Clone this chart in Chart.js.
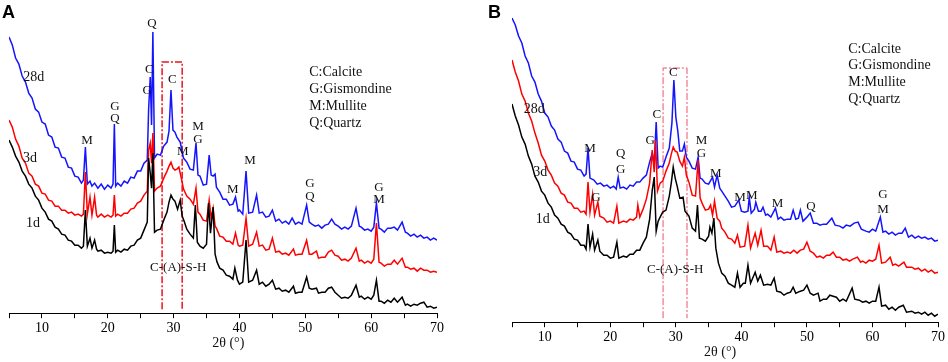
<!DOCTYPE html>
<html lang="en">
<head>
<meta charset="UTF-8" />
<title>XRD patterns</title>
<script src="https://cdn.jsdelivr.net/npm/chart.js@4.4.1/dist/chart.umd.min.js"></script>
<style>
  html, body { margin: 0; padding: 0; background: #fff; }
  body { width: 948px; height: 362px; position: relative; overflow: hidden; }
  #chartA { position: absolute; left: 0; top: 0; }
  #chartB { position: absolute; left: 470px; top: 0; }
</style>
</head>
<body>
<canvas id="chartA" width="470" height="362"></canvas>
<canvas id="chartB" width="478" height="362"></canvas>

<script>
// 2theta ticks (every 5, labelled every 10)
const thetaTicks = [5, 10, 15, 20, 25, 30, 35, 40, 45, 50, 55, 60, 65, 70];

// ---- panel A : [2theta, intensity] ----
const a28d = [[5,276],[5.5,268],[6,255],[6.5,249],[7,237],[7.5,231],[8,220],[8.5,215],[9,204],[9.5,201],[10,191],[10.5,189],[11,178],[11.5,176],[12,166],[12.5,165],[13,156],[13.5,155],[14,146],[14.5,145],[15,137],[15.5,136],[16,130],[16.3,133],[16.6,166],[16.9,129],[17.3,132],[17.6,127],[18,130],[18.5,125],[19,129],[19.5,124],[20,128],[20.5,125],[20.8,129],[21,189],[21.2,127],[21.5,130],[22,127],[22.5,132],[23,130],[23.5,136],[24,135],[24.5,142],[25,142],[25.5,150],[26,153],[26.2,203],[26.45,236],[26.65,188],[26.85,281],[27.1,155],[27.5,159],[28,158],[28.5,167],[29,171],[29.3,182],[29.6,223],[29.9,183],[30.2,181],[30.5,176],[31,171],[31.5,155],[32,151],[32.5,144],[33,143],[33.4,170],[33.7,138],[34,137],[34.5,128],[35,129],[35.4,158],[35.7,138],[36,137],[36.3,139],[36.5,126],[37,121],[37.5,114],[38,114],[38.5,108],[39,109],[39.4,116],[39.8,102],[40,103],[40.5,99],[41,142],[41.4,100],[42,101],[42.6,118],[43,100],[43.5,101],[44,96],[44.5,97],[45,103],[45.5,92],[46,94],[46.5,90],[47,92],[47.5,89],[48,95],[48.5,89],[49,91],[49.5,89],[50.2,108],[50.6,91],[51,89],[51.5,87],[52,88],[52.5,85],[53,88],[53.5,89],[54,94],[54.5,89],[55,87],[55.5,84],[56,86],[56.5,84],[57,87],[57.7,105],[58.2,87],[58.5,86],[59,83],[59.5,84],[60,82],[60.4,86],[60.8,110],[61.2,85],[61.5,84],[62,81],[62.5,85],[63,85],[63.5,86],[64,83],[64.7,91],[65.2,81],[65.5,80],[66,77],[66.5,79],[67,76],[67.5,78],[68,75],[68.5,76],[69,73],[69.5,75],[70,73]];
const a3d = [[5,193],[5.5,186],[6,174],[6.5,167],[7,155],[7.5,150],[8,140],[8.5,137],[9,129],[9.5,127],[10,120],[10.5,119],[11,113],[11.5,112],[12,107],[12.5,107],[13,103],[13.5,103],[14,100],[14.5,101],[15,98],[15.5,99],[16,97],[16.3,99],[16.6,141],[16.9,99],[17.3,116],[17.6,98],[18,116],[18.3,98],[18.5,96],[19,99],[19.5,96],[20,98],[20.5,96],[20.8,98],[21,118],[21.2,97],[21.5,99],[22,97],[22.5,100],[23,100],[23.5,104],[24,105],[24.5,110],[25,112],[25.5,118],[26,122],[26.2,163],[26.45,170],[26.65,150],[26.85,180],[27.1,122],[27.5,125],[28,127],[28.5,135],[29,142],[29.3,147],[29.6,151],[29.9,145],[30.2,143],[30.5,144],[30.8,146],[31.2,134],[31.5,124],[32,117],[32.5,114],[33,109],[33.4,125],[33.7,101],[34,99],[34.5,93],[35,92],[35.4,113],[35.7,95],[36,105],[36.3,87],[36.5,85],[37,77],[37.5,76],[38,72],[38.5,72],[39,69],[39.4,80],[39.8,68],[40,67],[40.5,68],[41,95],[41.4,67],[42,69],[42.6,81],[43,67],[43.5,68],[44,63],[44.5,64],[45,75],[45.5,61],[46,62],[46.5,59],[47,60],[47.5,58],[48.2,64],[48.5,58],[49,59],[49.5,59],[50.2,73],[50.6,59],[51,59],[51.7,62],[52,55],[52.5,56],[53,56],[53.5,61],[54,63],[54.5,58],[55,57],[55.5,53],[56,54],[56.5,52],[57,55],[57.7,65],[58.2,52],[58.5,53],[59,50],[59.5,52],[60,50],[60.4,54],[60.8,90],[61.2,51],[61.5,50],[62,47],[62.5,49],[63,49],[63.5,53],[64,49],[64.7,55],[65.2,46],[65.5,46],[66,44],[66.5,45],[67,42],[67.5,45],[68,43],[68.5,43],[69,41],[69.5,42],[70,41]];
const a1d = [[5,173],[5.5,166],[6,157],[6.5,151],[7,142],[7.5,137],[8,129],[8.5,125],[9,117],[9.5,113],[10,105],[10.5,101],[11,94],[11.5,92],[12,86],[12.5,84],[13,79],[13.5,78],[14,73],[14.5,72],[15,68],[15.5,68],[16,65],[16.3,67],[16.6,103],[16.9,67],[17.3,75],[17.6,65],[18,73],[18.3,64],[18.5,62],[19,63],[19.5,60],[20,61],[20.5,60],[20.8,62],[21,88],[21.2,61],[21.5,63],[22,61],[22.5,64],[23,63],[23.5,67],[24,68],[24.5,73],[25,75],[25.5,83],[26,91],[26.2,155],[26.45,140],[26.65,125],[26.85,160],[27.1,81],[27.5,83],[28,84],[28.5,93],[29,101],[29.3,111],[29.6,118],[29.9,114],[30.2,112],[30.6,104],[31,113],[31.3,97],[31.6,92],[32,84],[32.5,79],[33,75],[33.3,108],[33.6,71],[34,67],[34.5,65],[35,69],[35.3,110],[35.6,80],[36,106],[36.3,59],[36.6,51],[37,45],[37.5,43],[38,38],[38.5,37],[39,34],[39.3,45],[39.7,33],[40,29],[40.5,31],[41,73],[41.4,31],[42,33],[42.6,43],[43,29],[43.5,31],[44,27],[44.5,29],[45,33],[45.5,24],[46,25],[46.5,22],[47,23],[47.5,21],[48.2,27],[48.5,20],[49,21],[49.5,21],[50.2,36],[50.6,25],[51,24],[51.7,25],[52,20],[52.5,21],[53,21],[53.5,25],[54,26],[54.5,21],[55,18],[55.5,15],[56,16],[56.5,15],[57,18],[57.7,28],[58.2,16],[58.5,17],[59,14],[59.5,16],[60,14],[60.4,18],[60.8,33],[61.2,12],[61.5,12],[62,10],[62.5,13],[63,11],[63.5,15],[64,11],[64.7,16],[65.2,8],[65.5,9],[66,7],[66.5,9],[67,8],[67.5,10],[68,11],[68.5,6],[69,7],[69.5,5],[70,6]];

// ---- panel B ----
const b28d = [[5,304],[5.5,297],[6,286],[6.5,279],[7,266],[7.5,259],[8,246],[8.5,240],[9,228],[9.5,221],[10,209],[10.5,205],[11,196],[11.5,192],[12,183],[12.5,180],[13,171],[13.5,169],[14,161],[14.5,160],[15,153],[15.5,152],[16,146],[16.3,148],[16.6,174],[16.9,144],[17.5,142],[18,138],[18.5,139],[19,136],[19.5,137],[20,134],[20.5,136],[20.9,133],[21.2,145],[21.5,134],[22,135],[22.5,133],[23,137],[23.5,136],[24,140],[24.5,140],[25,144],[25.5,147],[26,160],[26.4,169],[26.7,158],[27,200],[27.3,154],[27.6,156],[28,155],[28.5,165],[29,174],[29.4,199],[29.7,242],[30,205],[30.3,191],[30.6,171],[31,171],[31.3,178],[31.6,165],[32,161],[32.5,154],[33,153],[33.4,165],[33.7,144],[34,143],[34.5,139],[35,138],[35.6,145],[35.9,135],[36.3,147],[36.7,134],[37,131],[37.5,126],[38,121],[38.5,115],[39,116],[39.6,122],[40,111],[40.5,110],[41,111],[41.2,125],[41.5,109],[42,113],[42.2,120],[42.6,111],[43,111],[43.3,115],[43.7,107],[44,108],[44.5,105],[45.2,114],[45.6,103],[46,105],[46.5,102],[47,103],[47.5,103],[47.9,112],[48.3,103],[48.7,104],[49,112],[49.4,101],[50,105],[50.5,109],[51,99],[51.5,99],[52,97],[52.5,98],[53,98],[53.8,104],[54.3,97],[55,96],[55.5,94],[56,97],[56.6,96],[57.2,99],[57.8,100],[58.3,93],[59,91],[59.5,90],[60,93],[60.5,91],[61.2,105],[61.6,90],[62,91],[62.5,88],[63,90],[63.5,87],[64,89],[64.5,89],[65,94],[65.5,85],[66,87],[66.5,84],[67,86],[67.5,84],[68,85],[68.5,83],[69,84],[69.5,81],[70,82]];
const b3d = [[5,262],[5.5,250],[6,241],[6.5,228],[7,221],[7.5,209],[8,201],[8.5,189],[9,179],[9.5,167],[10,161],[10.5,152],[11,147],[11.5,139],[12,136],[12.5,129],[13,127],[13.5,120],[14,119],[14.5,114],[15,114],[15.5,110],[16,111],[16.3,108],[16.6,140],[16.9,110],[17.3,128],[17.6,107],[18.1,120],[18.4,106],[19,104],[19.5,100],[20,101],[20.5,99],[21,116],[21.3,99],[22,101],[22.5,100],[23,103],[23.5,102],[24,105],[24.2,117],[24.5,105],[25,113],[25.5,123],[26,139],[26.4,172],[26.7,150],[26.9,182],[27.2,131],[27.6,139],[28,141],[28.5,151],[29,159],[29.3,168],[29.6,175],[29.9,171],[30.2,170],[30.6,161],[31,156],[31.3,165],[31.6,147],[32,140],[32.5,127],[33,126],[33.4,162],[33.7,124],[34,119],[34.5,112],[35,113],[35.3,117],[35.6,107],[35.9,121],[36.3,104],[36.7,101],[37,94],[37.5,90],[38,84],[38.5,83],[39,79],[39.4,87],[39.8,75],[40.5,76],[41,97],[41.4,74],[42.1,89],[42.5,77],[43,92],[43.4,76],[44,76],[44.5,72],[45,85],[45.4,70],[46,71],[46.5,69],[47,70],[47.5,69],[48,72],[48.5,69],[49,72],[49.5,73],[50,80],[50.5,71],[51,69],[51.5,65],[52,66],[52.5,64],[53,67],[53.5,67],[54,70],[54.5,65],[55,65],[55.5,62],[56,63],[56.5,61],[57,63],[57.7,65],[58.2,60],[58.5,61],[59,59],[59.5,62],[60,61],[60.5,63],[61,77],[61.4,59],[62,60],[62.7,65],[63.1,57],[63.5,58],[64,56],[64.8,60],[65.2,55],[66,55],[66.5,53],[67,54],[67.5,51],[68,53],[68.5,50],[69,52],[69.5,49],[70,50]];
const b1d = [[5,218],[5.5,206],[6,197],[6.5,185],[7,178],[7.5,166],[8,158],[8.5,146],[9,140],[9.5,131],[10,127],[10.5,119],[11,115],[11.5,107],[12,104],[12.5,98],[13,96],[13.5,90],[14,88],[14.5,83],[15,82],[15.5,77],[16,77],[16.3,73],[16.6,98],[16.9,75],[17.3,88],[17.6,72],[18.1,82],[18.4,71],[19,67],[19.5,67],[20,64],[20.5,65],[21,80],[21.3,64],[22,66],[22.5,65],[23,68],[23.5,68],[24,72],[24.5,72],[25,79],[25.5,85],[26,103],[26.4,132],[26.7,145],[27,91],[27.3,101],[27.6,105],[28,110],[28.5,112],[29,126],[29.3,139],[29.6,155],[29.9,144],[30.2,136],[30.6,124],[31.1,125],[31.4,111],[32,106],[32.5,94],[33,91],[33.3,117],[33.6,84],[34,83],[34.5,81],[35,86],[35.2,95],[35.5,89],[35.8,104],[36.1,74],[36.5,59],[37,49],[37.5,46],[38,39],[38.5,37],[39,35],[39.4,49],[39.8,35],[40.3,39],[40.6,39],[41,57],[41.4,39],[42.1,50],[42.5,41],[42.9,47],[43.4,37],[44,38],[44.5,37],[45,44],[45.4,31],[46,30],[46.5,27],[47,29],[47.5,30],[47.9,35],[48.3,29],[49,31],[49.5,32],[50,37],[50.5,29],[51,27],[51.7,29],[52,21],[52.5,23],[53,23],[53.5,27],[54,26],[54.5,25],[55,21],[55.5,23],[56,21],[56.9,34],[57.3,23],[58,22],[58.5,20],[59,21],[59.5,19],[60,21],[60.5,21],[61,35],[61.4,16],[62,17],[62.5,13],[63,15],[63.5,12],[64,15],[64.7,17],[65.2,10],[66,11],[66.5,9],[67,10],[67.5,8],[68,10],[68.5,7],[69,9],[69.5,6],[70,8]];

// phase tags [2theta, intensity, text]
const peakTagsA = [[16.85,173,"M"],[21.1,206,"G"],[21.1,194,"Q"],[26.0,222,"G"],[26.3,243,"C"],[26.7,289,"Q"],
  [29.8,233,"C"],[33.7,187,"M"],[33.7,174,"G"],[31.4,162,"M"],[39.0,124,"M"],[41.6,153,"M"],
  [50.7,130,"G"],[50.7,117,"Q"],[61.2,126,"G"],[61.2,114,"M"],[30.7,46,"C-(A)-S-H"]];
const peakTagsB = [[16.9,174,"M"],[21.6,169,"Q"],[21.6,153,"G"],[17.8,125,"G"],[26.1,182,"G"],[27.1,207,"C"],
  [29.6,249,"C"],[33.9,182,"M"],[33.9,169,"G"],[36.1,149,"M"],[39.8,125,"M"],[41.6,127,"M"],
  [45.5,119,"M"],[50.6,116,"Q"],[61.6,128,"G"],[61.6,113,"M"],[29.9,53,"C-(A)-S-H"]];
const ageTagsA = [[8.75,236,"28d"],[8.2,155,"3d"],[8.65,90,"1d"]];
const ageTagsB = [[8.4,213,"28d"],[9.3,150,"3d"],[9.7,103,"1d"]];
const phaseKey = ["C:Calcite", "G:Gismondine", "M:Mullite", "Q:Quartz"];

const SERIF = '"Liberation Serif", "Times New Roman", serif';

function marks(cfg) {
  return {
    id: "marks",
    beforeDatasetsDraw(chart) {
      const { ctx, scales: { x, y } } = chart;
      const x0 = x.getPixelForValue(cfg.box[0]), x1 = x.getPixelForValue(cfg.box[1]);
      const yb = y.getPixelForValue(cfg.box[2]), yt = y.getPixelForValue(cfg.box[3]);
      ctx.save();
      ctx.strokeStyle = cfg.boxColor;
      ctx.lineWidth = cfg.boxWidth;
      ctx.setLineDash([7, 2, 2, 2]);
      ctx.beginPath();
      ctx.moveTo(x0, yb); ctx.lineTo(x0, yt); ctx.lineTo(x1, yt); ctx.lineTo(x1, yb);
      ctx.stroke();
      ctx.restore();
    },
    afterDatasetsDraw(chart) {
      const { ctx, chartArea, scales: { x, y } } = chart;
      ctx.save();
      ctx.fillStyle = "#111";
      ctx.textAlign = "center";
      ctx.textBaseline = "middle";
      ctx.font = "13px " + SERIF;
      cfg.peaks.forEach(([t, v, s]) => ctx.fillText(s, x.getPixelForValue(t), y.getPixelForValue(v)));
      ctx.font = "14px " + SERIF;
      cfg.ages.forEach(([t, v, s]) => ctx.fillText(s, x.getPixelForValue(t), y.getPixelForValue(v)));
      ctx.fillText("2\u03b8 (\u00b0)", x.getPixelForValue(cfg.titleAt), chartArea.bottom + 30);
      ctx.textAlign = "left";
      phaseKey.forEach((s, i) => ctx.fillText(s, x.getPixelForValue(cfg.key[0]), y.getPixelForValue(cfg.key[1]) + i * cfg.key[2]));
      ctx.fillStyle = "#000";
      ctx.font = 'bold 18px "Liberation Sans", Arial, sans-serif';
      ctx.fillText(cfg.letter, cfg.letterAt[0], cfg.letterAt[1]);
      ctx.restore();
    }
  };
}

function drawPanel(id, series, yMax, pad, cfg) {
  const colors = ["#000000", "#ff0000", "#1414ff"];
  return new Chart(document.getElementById(id), {
    type: "line",
    data: {
      datasets: series.map((s, i) => ({
        data: s,
        borderColor: colors[i],
        borderWidth: 1.5,
        pointRadius: 0,
        tension: 0,
        fill: false
      }))
    },
    options: {
      responsive: false,
      animation: false,
      layout: { padding: pad },
      plugins: { legend: { display: false }, tooltip: { enabled: false } },
      scales: {
        x: {
          type: "linear",
          min: 5,
          max: 70,
          afterBuildTicks: (axis) => { axis.ticks = thetaTicks.map(v => ({ value: v })); },
          ticks: {
            autoSkip: false,
            maxRotation: 0,
            padding: 2,
            color: "#000",
            font: { family: SERIF, size: 14 },
            callback: (v) => (v % 10 === 0 ? v : "")
          },
          grid: { drawOnChartArea: false, drawTicks: true, tickLength: 5, color: "#000" },
          border: { display: true, color: "#000", width: 1 }
        },
        y: { display: false, min: 0, max: yMax }
      }
    },
    plugins: [marks(cfg)]
  });
}

drawPanel("chartA", [a1d, a3d, a28d], 313, { left: 9, right: 33, top: 0, bottom: 23 }, {
  box: [28.25, 31.3, 4, 251], boxColor: "#e8141e", boxWidth: 1.5,
  peaks: peakTagsA, ages: ageTagsA, key: [50.6, 241, 17], titleAt: 38.3,
  letter: "A", letterAt: [2, 13]
});

drawPanel("chartB", [b1d, b3d, b28d], 322, { left: 42, right: 10, top: 0, bottom: 14 }, {
  box: [28.05, 31.7, 4, 254], boxColor: "#f0506a", boxWidth: 1,
  peaks: peakTagsB, ages: ageTagsB, key: [56.3, 273, 16.7], titleAt: 36.75,
  letter: "B", letterAt: [18, 13]
});
</script>
</body>
</html>
